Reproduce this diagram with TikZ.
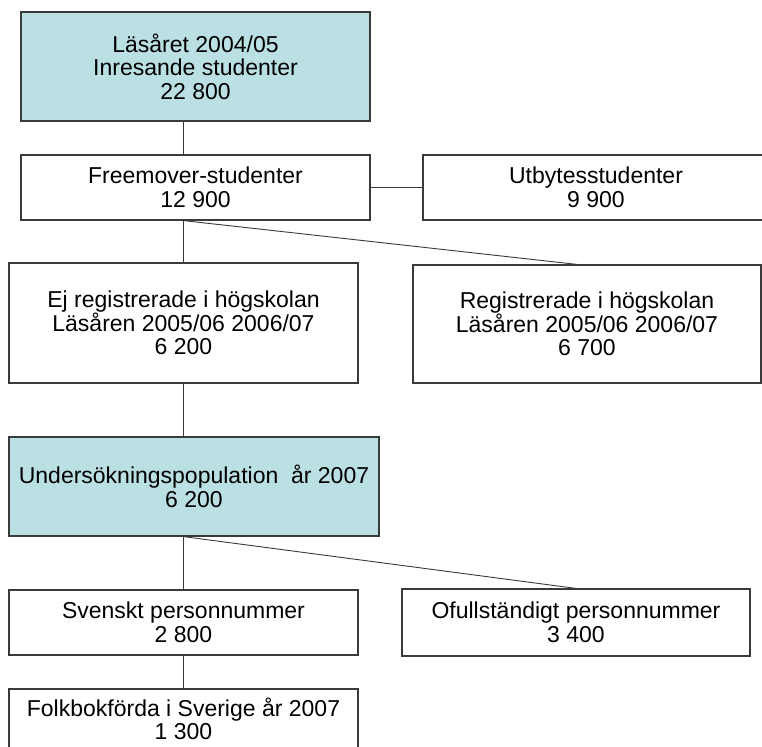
\documentclass[tikz,border=0pt]{standalone}
\usepackage{fontspec}
\setmainfont{Liberation Sans}
\definecolor{boxcyan}{HTML}{BBE0E3}
\definecolor{edgegray}{HTML}{3A3A3A}
\begin{document}
\begin{tikzpicture}[x=1pt,y=-1pt,
  box/.style={draw=edgegray, line width=1.2pt, fill=white, align=center,
    inner sep=0pt, font=\fontsize{23}{23.5}\selectfont},
  hl/.style={box, fill=boxcyan},
  conn/.style={draw=edgegray, line width=0.9pt}]
\useasboundingbox (0,0) rectangle (762,746);
\clip (0,0) rectangle (762,746);
\fill[white] (0,0) rectangle (762,746);

\node[hl, minimum width=349pt, minimum height=109pt] (A) at (195.5,66.5)
  {Läsåret 2004/05\\Inresande studenter\\22 800};
\node[box, minimum width=349pt, minimum height=65pt] (B) at (195.5,187.5)
  {Freemover-studenter\\12 900};
\node[box, minimum width=346pt, minimum height=65pt] (C) at (596,187.5)
  {Utbytesstudenter\\9 900};
\node[box, minimum width=349pt, minimum height=120pt] (D) at (183.5,323)
  {Ej registrerade i högskolan\\ Läsåren 2005/06 2006/07\\6 200};
\node[box, minimum width=348pt, minimum height=118pt] (E) at (587,324)
  {Registrerade i högskolan\\ Läsåren 2005/06 2006/07\\6 700};
\node[hl, minimum width=370pt, minimum height=99pt] (F) at (194,486.5)
  {Undersökningspopulation\ \ år 2007\\6 200};
\node[box, minimum width=349pt, minimum height=65pt] (G) at (183.5,622.5)
  {Svenskt personnummer\\2 800};
\node[box, minimum width=348pt, minimum height=67pt] (H) at (576,622.5)
  {Ofullständigt personnummer\\3 400};
\node[box, minimum width=349pt, minimum height=60pt] (I) at (183.5,719)
  {Folkbokförda i Sverige år 2007\\1 300};

\draw[conn] (D |- A.south) -- (D |- B.north);
\draw[conn] (B.east) -- (C.west);
\draw[conn] (D |- B.south) -- (D.north);
\draw[conn] (D |- B.south) -- ([xshift=-10pt]E.north);
\draw[conn] (D.south) -- (D |- F.north);
\draw[conn] (G |- F.south) -- (G.north);
\draw[conn] (G |- F.south) -- (H.north);
\draw[conn] (G.south) -- (I.north);
\end{tikzpicture}
\end{document}
